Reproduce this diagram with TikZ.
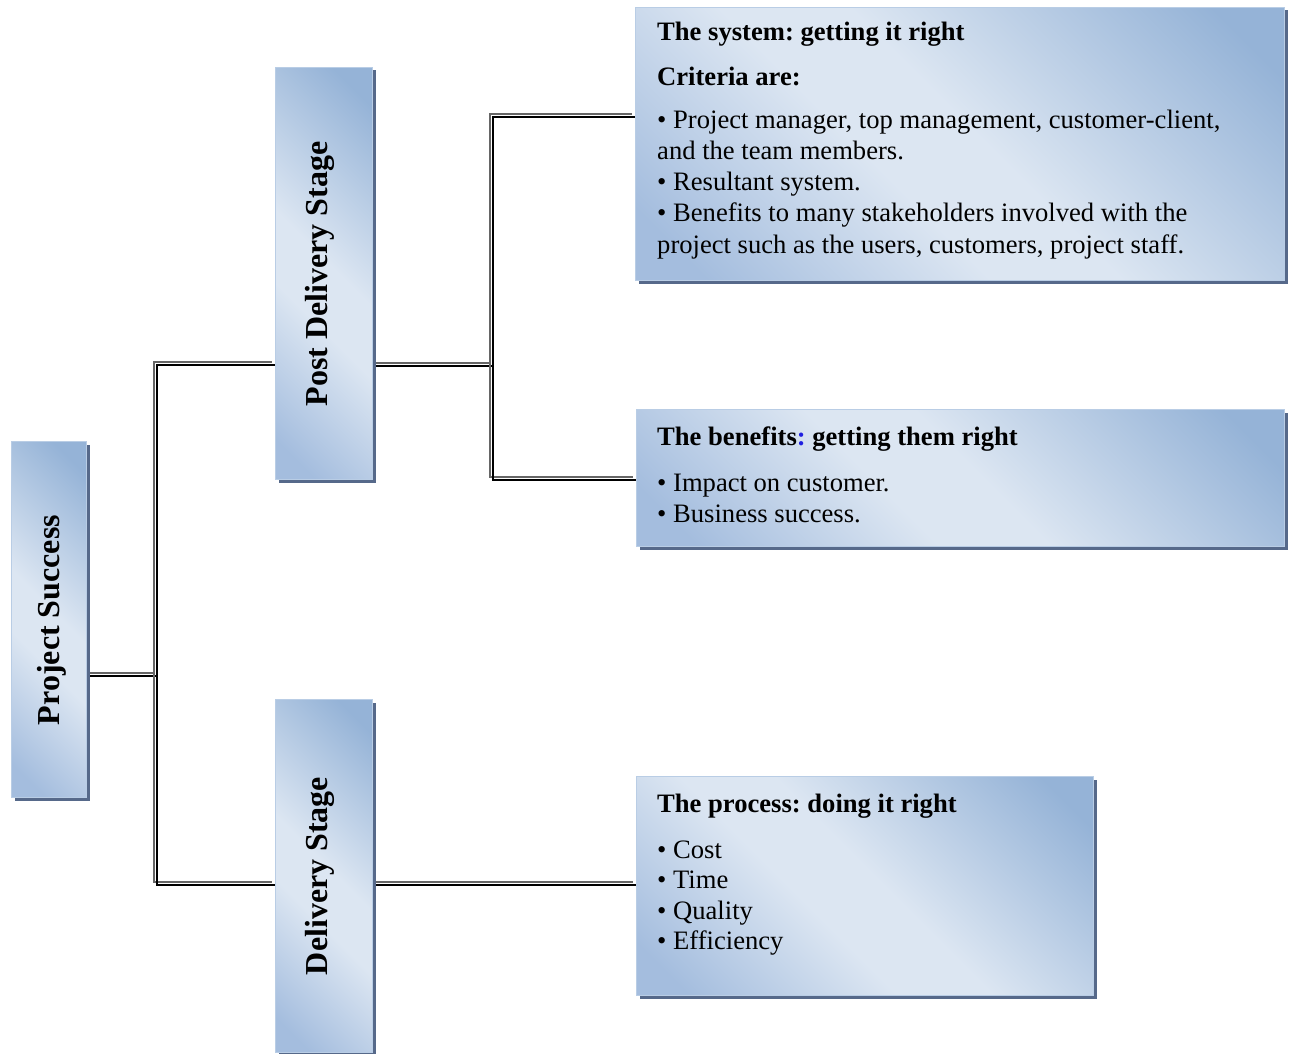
\documentclass[tikz,border=0pt]{standalone}
\usepackage{fontspec}
\setmainfont{Liberation Serif}
\usetikzlibrary{shadows,backgrounds}
\frenchspacing

\definecolor{blight}{HTML}{DCE6F2}
\definecolor{bdark}{HTML}{95B3D7}
\definecolor{bdarkb}{HTML}{A4BDDE}
\definecolor{bshadow}{HTML}{56698A}
\definecolor{bedge}{HTML}{B9CDE5}
\definecolor{colonblue}{HTML}{1F1FE0}

% diagonal light band between two darker blue corners
\pgfdeclarehorizontalshading{panelshade}{100bp}{%
  color(0bp)=(bdarkb); color(20bp)=(bdarkb); color(42bp)=(blight);
  color(52bp)=(blight); color(80bp)=(bdark); color(100bp)=(bdark)}

\tikzset{
  panel/.style={draw=bedge, line width=1pt, shading=panelshade, shading angle=45,
    anchor=north west, inner sep=0pt,
    general shadow={fill=bshadow, shadow xshift=3pt, shadow yshift=-3pt}},
  link/.style={draw=black, line width=2.4pt,
    preaction={draw=black!60, line width=2pt, transform canvas={shift={(-3pt,3pt)}}}},
  body/.style={anchor=base west, inner sep=0pt, font=\fontsize{26.6}{30}\selectfont},
  head/.style={body, font=\fontsize{26.6}{30}\selectfont\bfseries},
  vlabel/.style={rotate=90, anchor=base, inner sep=0pt, font=\fontsize{32}{36}\selectfont\bfseries}
}

\begin{document}
\begin{tikzpicture}[x=1pt, y=-1pt]
\useasboundingbox (0,0) rectangle (1294,1054);

% stage columns
\node[panel, minimum width=75pt, minimum height=356pt] (ps) at (11,441) {};
\node[panel, minimum width=97pt, minimum height=412pt] (pd) at (275,67) {};
\node[panel, minimum width=97pt, minimum height=353pt] (ds) at (275,699) {};

\node[vlabel] (psl) at (59,620) {Project Success};
\node[vlabel] (pdl) at (327,274) {Post Delivery Stage};
\node[vlabel] (dsl) at (327,876) {Delivery Stage};

% criteria panels
\node[panel, minimum width=649pt, minimum height=273pt] (sys) at (635,7) {};
\node[panel, minimum width=648pt, minimum height=137pt] (ben) at (636,409) {};
\node[panel, minimum width=457pt, minimum height=219pt] (pro) at (636,776) {};

\node[head] (s0) at (657,41) {The system: getting it right};
\node[head] (s1) at (657,86) {Criteria are:};
\node[body] (s2) at (657,129) {• Project manager, top management, customer-client,};
\node[body] (s3) at (657,160) {and the team members.};
\node[body] (s4) at (657,191) {• Resultant system.};
\node[body] (s5) at (657,222) {• Benefits to many stakeholders involved with the};
\node[body] (s6) at (657,253) {project such as the users, customers, project staff.};

\node[head] (b0) at (657,445) {The benefits\textcolor{colonblue}{:} getting them right};
\node[body] (b1) at (657,491) {• Impact on customer.};
\node[body] (b2) at (657,522) {• Business success.};

\node[head] (p0) at (657,812) {The process: doing it right};
\node[body] (p1) at (657,858) {• Cost};
\node[body] (p2) at (657,888) {• Time};
\node[body] (p3) at (657,919) {• Quality};
\node[body] (p4) at (657,949) {• Efficiency};

% branch points
\coordinate (jtop) at (157,365);
\coordinate (jmid) at (157,676);
\coordinate (jbot) at (157,885);
\coordinate (ktop) at (493,117);
\coordinate (kmid) at (493,366);
\coordinate (kbot) at (493,480);

\begin{scope}[on background layer]
  \draw[link] (ps.east |- jmid) -- (jmid);
  \draw[link] (pd.west |- jtop) -- (jtop) -- (jbot) -- (ds.west |- jbot);
  \draw[link] (pd.east |- kmid) -- (kmid);
  \draw[link] (sys.west |- ktop) -- (ktop) -- (kbot) -- (ben.west |- kbot);
  \draw[link] (ds.east |- jbot) -- (pro.west |- jbot);
\end{scope}
\end{tikzpicture}
\end{document}
